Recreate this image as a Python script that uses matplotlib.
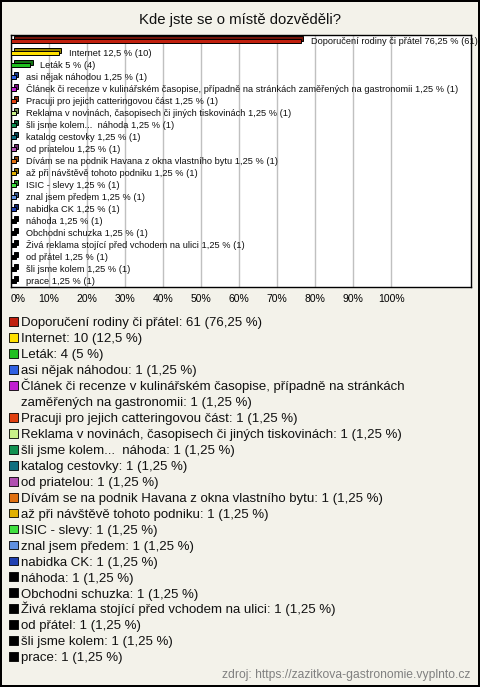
import textwrap
import matplotlib
matplotlib.use("Agg")
import matplotlib.pyplot as plt
from matplotlib.transforms import ScaledTranslation

plt.rcParams['font.family'] = ['Liberation Sans', 'DejaVu Sans']

# data
categories = [
    "Doporučení rodiny či přátel",
    "Internet",
    "Leták",
    "asi nějak náhodou",
    "Článek či recenze v kulinářském časopise, případně na stránkách zaměřených na gastronomii",
    "Pracuji pro jejich catteringovou část",
    "Reklama v novinách, časopisech či jiných tiskovinách",
    "šli jsme kolem...  náhoda",
    "katalog cestovky",
    "od priatelou",
    "Dívám se na podnik Havana z okna vlastního bytu",
    "až při návštěvě tohoto podniku",
    "ISIC - slevy",
    "znal jsem předem",
    "nabidka CK",
    "náhoda",
    "Obchodni schuzka",
    "Živá reklama stojící před vchodem na ulici",
    "od přátel",
    "šli jsme kolem",
    "prace",
]
counts = [61, 10, 4, 1, 1, 1, 1, 1, 1, 1, 1, 1, 1, 1, 1, 1, 1, 1, 1, 1, 1]
total = 80
colors = [
    "#c0200e", "#ffe000", "#20c020", "#3060e0", "#c020d0", "#e04010",
    "#c8f088", "#109050", "#107080", "#b050b0", "#e07010", "#e0b000",
    "#40e040", "#6090e0", "#2040b0", "#000000", "#000000", "#000000",
    "#000000", "#000000", "#000000",
]
x_ticks = [0, 10, 20, 30, 40, 50, 60, 70, 80, 90, 100]


def fmt(v):
    return f"{v:g}".replace(".", ",")


def darker(c, f=0.6):
    r, g, b = matplotlib.colors.to_rgb(c)
    return (r * f, g * f, b * f)


pcts = [c / total * 100 for c in counts]

W, H = 480, 687
fig = plt.figure(figsize=(W / 100, H / 100), dpi=100)
bg = "#f3f2ea"
fig.patch.set_facecolor(bg)
fig.patch.set_edgecolor("black")
fig.patch.set_linewidth(1.5)

fig.text(0.5, 1 - 20 / H, "Kde jste se o místě dozvěděli?", ha="center",
         va="center", fontsize=10.7, color="#111111")

# bar chart
ax = fig.add_axes([11 / W, 1 - 287 / H, 460 / W, 252 / H])
ax.set_facecolor("white")
ypos = list(range(len(categories)))

# 3D-ish bars: darker back face shifted up-right, then the front face
shift = ax.transData + ScaledTranslation(2.5 / 100, 2.5 / 100, fig.dpi_scale_trans)
back = ax.barh(ypos, pcts, height=0.4, color=[darker(c) for c in colors],
               edgecolor="black", linewidth=0.7, zorder=3)
for p in back:
    p.set_transform(shift)
ax.barh(ypos, pcts, height=0.4, color=colors, edgecolor="black",
        linewidth=0.7, zorder=4)

# labels: baseline placed so the capitals sit centred on the bar
for y, name, p, c in zip(ypos, categories, pcts, counts):
    ax.annotate(f"{name} {fmt(p)} % ({c})", xy=(p, y), xytext=(10, -3.3),
                textcoords="offset pixels", va="baseline", ha="left",
                fontsize=6.7, color="#111111", zorder=5)

ax.set_xlim(0, 121)
ax.set_ylim(len(categories) - 0.5, -0.5)
ax.set_xticks(x_ticks)
ax.set_xticklabels([f"{t}%" for t in x_ticks], fontsize=7.5)
ax.get_xticklabels()[0].set_ha("left")
ax.set_yticks([])
ax.tick_params(axis="x", length=0, pad=5)
ax.grid(axis="x", color="#c0c0c0", linewidth=1)
ax.set_axisbelow(True)
for s in ax.spines.values():
    s.set_color("black")
    s.set_linewidth(1)

# legend below the chart, one row per text line
lines = []
for n, c, p, col in zip(categories, counts, pcts, colors):
    wrapped = textwrap.wrap(f"{n}: {c} ({fmt(p)} %)", width=64)
    for k, t in enumerate(wrapped):
        lines.append((t, col if k == 0 else None))

row_h = 15.95
lax = fig.add_axes([0, 1 - (313.7 + row_h * len(lines)) / H, 1,
                    row_h * len(lines) / H])
lax.set_xlim(0, W)
lax.set_ylim(len(lines) - 0.5, -0.5)
lax.axis("off")
rows = [i for i, (_, col) in enumerate(lines) if col is not None]
lax.scatter([13.5] * len(rows), rows, marker="s", s=40,
            c=[lines[i][1] for i in rows], edgecolors="black", linewidths=0.6)
for i, (t, _) in enumerate(lines):
    lax.annotate(t, xy=(21, i), xytext=(0, -4.7), textcoords="offset pixels",
                 ha="left", va="baseline", fontsize=9.5, color="#111111")

fig.text(470 / W, 1 - 675 / H, "zdroj: https://zazitkova-gastronomie.vyplnto.cz",
         ha="right", va="center", fontsize=8.7, color="#808080")

fig.savefig("out.png", dpi=100, facecolor=bg, edgecolor="black")
